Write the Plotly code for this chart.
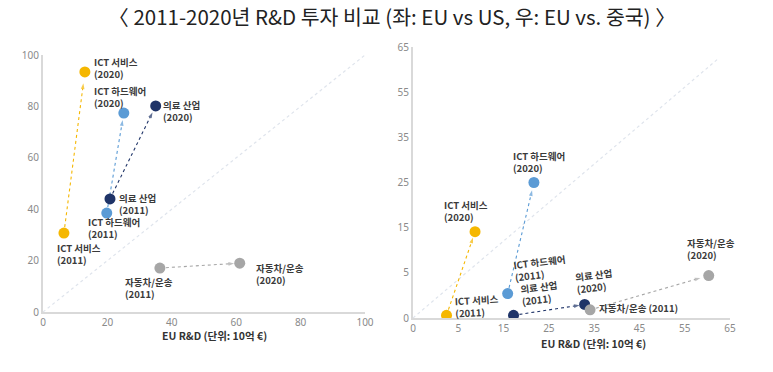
import numpy as np
import plotly.graph_objects as go

# ---------------- data ----------------
sectors = ["ICT 서비스", "ICT 하드웨어", "의료 산업", "자동차/운송"]
colors = ["#F5B700", "#5B9BD5", "#1F3468", "#A6A6A6"]

# Left: EU vs US (billion €)
left_eu_2011 = [6.5, 19.8, 20.8, 36.3]
left_us_2011 = [30.7, 38.5, 44.0, 17.1]
left_eu_2020 = [13.0, 25.1, 35.0, 61.1]
left_us_2020 = [93.4, 77.4, 80.2, 19.0]

# Right: EU vs China (billion €)
right_eu_2011 = [3.7, 15.9, 17.2, 34.1]
right_cn_2011 = [0.3, 2.7, 0.3, 0.9]
right_eu_2020 = [8.7, 21.7, 32.9, 60.3]
right_cn_2020 = [14.1, 25.0, 1.5, 4.7]

left_ticks = [0, 20, 40, 60, 80, 100]
right_ticks = [0, 5, 15, 25, 35, 45, 55, 65]
right_yticks = [0, 5, 15, 25, 35, 55, 65]
right_y_breaks = [0, 5, 15, 25, 35, 55, 65]
right_x_breaks = [0, 5, 15, 25, 35, 45, 55, 65]
diag_left = [0, 100]
diag_right = [0, 62.5]

title = "〈 2011-2020년 R&D 투자 비교 (좌: EU vs US, 우: EU vs. 중국) 〉"
xtitle = "EU R&D (단위: 10억 €)"


def tx(v):
    return np.interp(v, right_x_breaks, np.arange(len(right_x_breaks)))


def ty(v):
    return np.interp(v, right_y_breaks, np.arange(len(right_y_breaks)))


fig = go.Figure()

LBL_FONT = dict(family="Noto Sans CJK KR", size=9.5, color="#3a3a3a", weight="bold")
TICK_FONT = dict(family="Noto Sans", size=10, color="#8a8a8a")


def add_arrow(x0, y0, x1, y1, color, xa, ya):
    f = 0.93
    xe = x0 + f * (x1 - x0)
    ye = y0 + f * (y1 - y0)
    fig.add_trace(go.Scatter(
        x=[x0, xe], y=[y0, ye], mode="lines+markers", xaxis=xa, yaxis=ya,
        line=dict(color=color, width=1.1, dash="dot"),
        marker=dict(symbol=["circle", "arrow"], size=[0, 6], angleref="previous",
                    color=color, line=dict(width=0)),
        hoverinfo="skip", showlegend=False))


# diagonals
fig.add_trace(go.Scatter(x=diag_left, y=diag_left, mode="lines", xaxis="x", yaxis="y",
                         line=dict(color="#dfe4ec", width=1.2, dash="dot"),
                         hoverinfo="skip", showlegend=False))
fig.add_trace(go.Scatter(x=tx(diag_right), y=ty(diag_right), mode="lines", xaxis="x2", yaxis="y2",
                         line=dict(color="#dfe4ec", width=1.2, dash="dot"),
                         hoverinfo="skip", showlegend=False))

for i in range(4):
    add_arrow(left_eu_2011[i], left_us_2011[i], left_eu_2020[i], left_us_2020[i], colors[i], "x", "y")
    add_arrow(tx(right_eu_2011[i]), ty(right_cn_2011[i]), tx(right_eu_2020[i]), ty(right_cn_2020[i]),
              colors[i], "x2", "y2")

for i in range(4):
    fig.add_trace(go.Scatter(
        x=[left_eu_2011[i], left_eu_2020[i]], y=[left_us_2011[i], left_us_2020[i]],
        mode="markers", xaxis="x", yaxis="y",
        marker=dict(size=11, color=colors[i]), showlegend=False))
    fig.add_trace(go.Scatter(
        x=tx([right_eu_2011[i], right_eu_2020[i]]), y=ty([right_cn_2011[i], right_cn_2020[i]]),
        mode="markers", xaxis="x2", yaxis="y2",
        marker=dict(size=11, color=colors[i]), showlegend=False))

ann = []


def lab(x, y, text, xs, ys, xa, ya, angle=0):
    ann.append(dict(x=x, y=y, xref=xa, yref=ya, text=text, showarrow=False,
                    xanchor="left", yanchor="middle", align="left", xshift=xs, yshift=ys,
                    textangle=angle, borderpad=0, font=LBL_FONT))


# ---- left chart labels (xshift, yshift of block centre, in px) ----
L = ("x", "y")
lab(left_eu_2020[0], left_us_2020[0], f"{sectors[0]}<br>(2020)", 8, 4, *L)
lab(left_eu_2020[1], left_us_2020[1], f"{sectors[1]}<br>(2020)", -31, 16.5, *L)
lab(left_eu_2020[2], left_us_2020[2], f"{sectors[2]}<br>(2020)", 6, -5, *L)
lab(left_eu_2020[3], left_us_2020[3], f"{sectors[3]}<br>(2020)", 15, -11, *L)
lab(left_eu_2011[0], left_us_2011[0], f"{sectors[0]}<br>(2011)", -8, -20.5, *L)
lab(left_eu_2011[1], left_us_2011[1], f"{sectors[1]}<br>(2011)", -20, -15, *L)
lab(left_eu_2011[2], left_us_2011[2], f"{sectors[2]}<br>(2011)", 8, -5, *L)
lab(left_eu_2011[3], left_us_2011[3], f"{sectors[3]}<br>(2011)", -36, -19.5, *L)

# ---- right chart labels ----
R = ("x2", "y2")
lab(tx(right_eu_2020[0]), ty(right_cn_2020[0]), f"{sectors[0]}<br>(2020)", -32, 20.5, *R)
lab(tx(right_eu_2020[1]), ty(right_cn_2020[1]), f"{sectors[1]}<br>(2020)", -22, 20.5, *R)
lab(tx(right_eu_2020[2]), ty(right_cn_2020[2]), f"{sectors[2]}<br>(2020)", -11, 23, *R, angle=-7)
lab(tx(right_eu_2020[3]), ty(right_cn_2020[3]), f"{sectors[3]}<br>(2020)", -23, 26.5, *R)
lab(tx(right_eu_2011[0]), ty(right_cn_2011[0]), f"{sectors[0]}<br>(2011)", 7, 9.5, *R, angle=-3)
lab(tx(right_eu_2011[1]), ty(right_cn_2011[1]), f"{sectors[1]}<br>(2011)", 4, 25.5, *R, angle=-7)
lab(tx(right_eu_2011[2]), ty(right_cn_2011[2]), f"{sectors[2]}<br>(2011)", 5, 22.5, *R, angle=-7)
lab(tx(right_eu_2011[3]), ty(right_cn_2011[3]), f"{sectors[3]} (2011)", 8, 2, *R)

OX, OY = 0, 0
W, H = 773, 372


def px(x):
    return (x - OX) / W


def py(y):
    return 1 - (y - OY) / H


# axis titles
ann.append(dict(x=px(214), y=py(335), xref="paper", yref="paper", text=xtitle, showarrow=False,
                xanchor="center", yanchor="middle",
                font=dict(family="Noto Sans CJK KR", size=10.5, color="#333", weight="bold")))
ann.append(dict(x=px(593), y=py(343), xref="paper", yref="paper", text=xtitle, showarrow=False,
                xanchor="center", yanchor="middle",
                font=dict(family="Noto Sans CJK KR", size=10.5, color="#333", weight="bold")))

axis_common = dict(showgrid=False, zeroline=False, showline=True, linecolor="#d9d9d9",
                   linewidth=2, ticks="", tickfont=TICK_FONT, automargin=False)

fig.update_layout(
    width=W, height=H, margin=dict(l=0, r=0, t=0, b=0, autoexpand=False),
    paper_bgcolor="white", plot_bgcolor="white",
    title=dict(text=title, x=px(392), xanchor="center", y=py(18), yanchor="middle",
               automargin=False,
               font=dict(family="Noto Sans CJK KR", size=20.5, color="#222")),
    xaxis=dict(domain=[px(43), px(365)], range=[0, 100], tickvals=left_ticks, anchor="y",
               **axis_common),
    yaxis=dict(domain=[py(312), py(55)], range=[0, 100], tickvals=left_ticks, anchor="x",
               **axis_common),
    xaxis2=dict(domain=[px(413), px(730)], range=[0, 7], tickvals=tx(right_ticks),
                ticktext=[str(t) for t in right_ticks], anchor="y2", **axis_common),
    yaxis2=dict(domain=[py(318), py(47)], range=[0, 6], tickvals=ty(right_yticks),
                ticktext=[str(t) for t in right_yticks], anchor="x2", **axis_common),
    annotations=ann,
)

fig.write_html("out.html", config={"displayModeBar": False},
               post_script="document.body.style.margin='0';")
